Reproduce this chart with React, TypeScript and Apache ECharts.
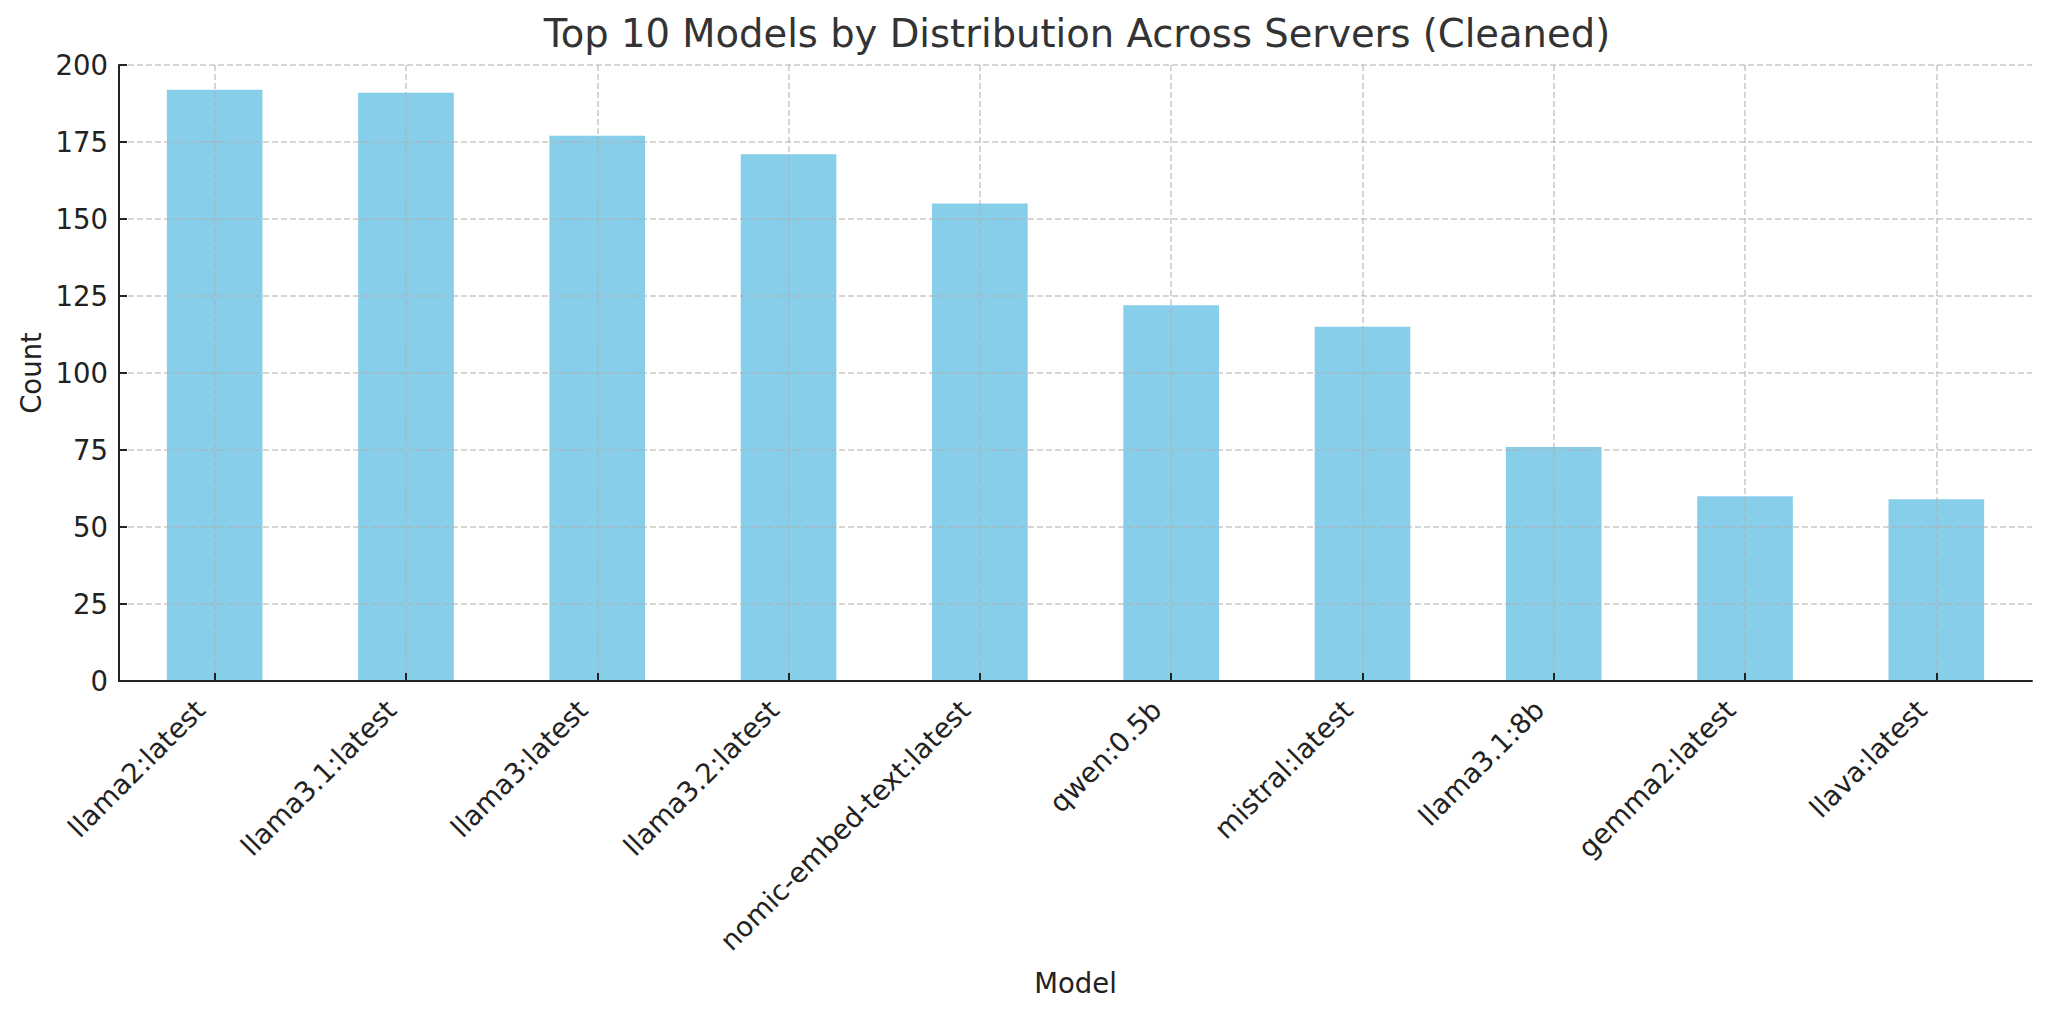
import React, { useEffect, useRef } from "react";
import * as echarts from "echarts";

const categories = [
  "llama2:latest",
  "llama3.1:latest",
  "llama3:latest",
  "llama3.2:latest",
  "nomic-embed-text:latest",
  "qwen:0.5b",
  "mistral:latest",
  "llama3.1:8b",
  "gemma2:latest",
  "llava:latest",
];
const counts = [192, 191, 177, 171, 155, 122, 115, 76, 60, 59];
const titleText = "Top 10 Models by Distribution Across Servers (Cleaned)";
const xName = "Model";
const yName = "Count";

const FONT = "DejaVu Sans";

export default function App() {
  const ref = useRef<HTMLDivElement>(null);
  useEffect(() => {
    if (!ref.current) return;
    const chart = echarts.init(ref.current, undefined, { renderer: "svg" });
    const gridLine = { color: "#b0b0b0", opacity: 0.7, width: 1.5, type: [6, 3] as any };
    chart.setOption({
      animation: false,
      backgroundColor: "#ffffff",
      title: {
        text: titleText,
        left: 1072,
        top: 9,
        textAlign: "center",
        textStyle: { fontFamily: FONT, fontSize: 38.5, fontWeight: "normal", color: "#333333" },
      },
      grid: { left: 119, right: 16, top: 65, bottom: 335, containLabel: false },
      xAxis: {
        type: "category",
        data: categories,
        z: 5,
        name: xName,
        nameLocation: "middle",
        nameGap: 288,
        nameTextStyle: { fontFamily: FONT, fontSize: 27.5, color: "#222222" },
        axisLine: { show: true, lineStyle: { color: "#222222", width: 2 } },
        axisTick: { show: true, inside: true, length: 8, alignWithLabel: true, lineStyle: { color: "#222222", width: 2 } },
        axisLabel: {
          rotate: 45,
          margin: 9,
          interval: 0,
          padding: [0, 21, 0, 0],
          fontFamily: FONT,
          fontSize: 27.5,
          color: "#222222",
        },
        splitLine: { show: true, alignWithLabel: true, lineStyle: gridLine },
      },
      yAxis: {
        type: "value",
        min: 0,
        max: 200,
        interval: 25,
        z: 5,
        name: yName,
        nameLocation: "middle",
        nameGap: 74,
        nameTextStyle: { fontFamily: FONT, fontSize: 27.5, color: "#222222" },
        axisLine: { show: true, lineStyle: { color: "#222222", width: 2 } },
        axisTick: { show: true, inside: true, length: 8, lineStyle: { color: "#222222", width: 2 } },
        axisLabel: { margin: 11, fontFamily: FONT, fontSize: 27.5, color: "#222222" },
        splitLine: { show: true, lineStyle: gridLine },
      },
      series: [
        {
          type: "bar",
          data: counts,
          barWidth: "50%",
          z: 2,
          itemStyle: { color: "#87CEEB" },
        },
      ],
    });
    return () => chart.dispose();
  }, []);
  return (
    <div
      ref={ref}
      style={{ position: "fixed", left: 0, top: 0, width: 2048, height: 1016, background: "#fff" }}
    />
  );
}
